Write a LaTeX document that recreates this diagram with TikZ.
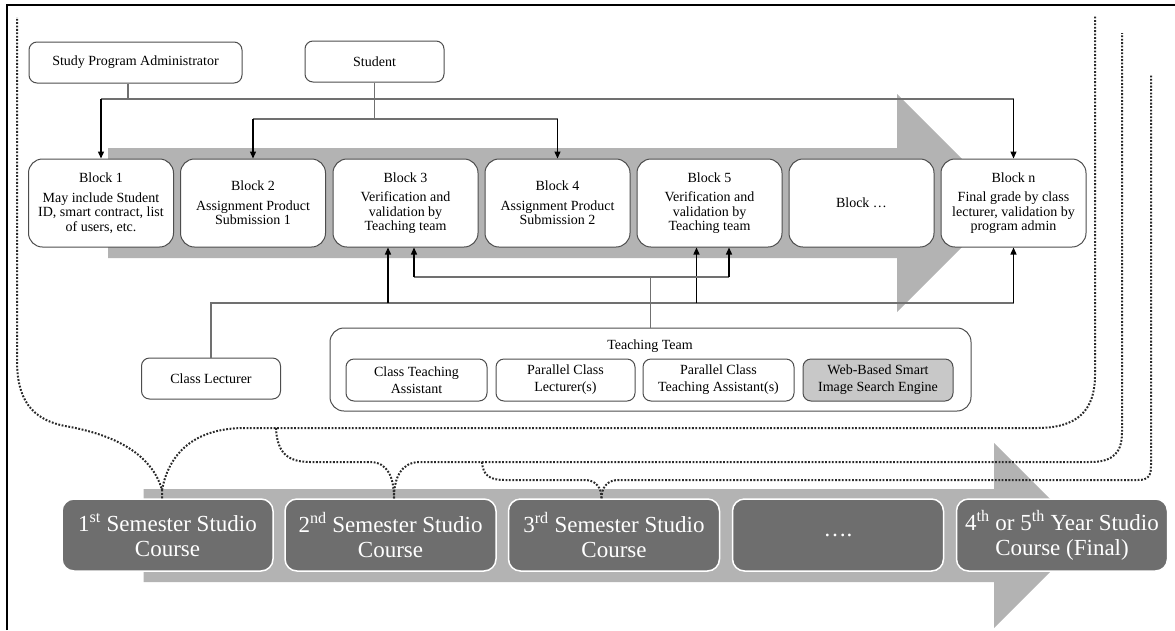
\documentclass[tikz,border=0pt]{standalone}
\usepackage{fontspec}
\setmainfont{Liberation Serif}
\usetikzlibrary{arrows.meta}
\definecolor{arrgray}{HTML}{B3B3B3}
\definecolor{dkbox}{HTML}{6E6E6E}
\definecolor{webgray}{HTML}{C8C8C8}
\definecolor{lgray}{HTML}{707070}
\definecolor{bordergray}{HTML}{4D4D4D}
\definecolor{dotc}{HTML}{2A2A2A}
\begin{document}
\begin{tikzpicture}[x=1pt,y=-1pt,
  wbox/.style={draw=bordergray, line width=1pt, fill=white, rounded corners=8pt, align=center, inner sep=0pt, font=\fontsize{14}{14.5}\selectfont},
  blockbox/.style={wbox, rounded corners=14pt, minimum width=145pt, minimum height=88pt},
  innerbox/.style={wbox, minimum height=42pt, font=\fontsize{14}{17}\selectfont},
  semb/.style={draw=white, line width=1.5pt, fill=dkbox, rounded corners=12pt, minimum width=211pt, minimum height=72pt, text=white, align=center, inner sep=0pt, font=\fontsize{23}{25}\selectfont},
  gline/.style={draw=lgray, line width=1.2pt},
  arr/.style={draw=black, line width=1.3pt, -{Triangle[length=7pt,width=6pt]}},
  dotl/.style={draw=dotc, line width=2pt, dash pattern=on 1.8pt off 1.6pt}
]
\useasboundingbox (0,0) rectangle (1175,630);
\draw[black, line width=1.5pt] (7,630) -- (7,5) -- (1175,5);

% big gray arrows
\fill[arrgray] (108,148) -- (897,148) -- (897,94) -- (1006,203) -- (897,312) -- (897,258) -- (108,258) -- cycle;
\fill[arrgray] (143.5,489) -- (994,489) -- (994,443) -- (1086.5,535.5) -- (994,628) -- (994,582) -- (143.5,582) -- cycle;

% top actors
\node[wbox, minimum width=213pt, minimum height=41pt] (admin) at (135.5,62.5) {Study Program Administrator};
\node[wbox, minimum width=139pt, minimum height=41pt] (student) at (374.5,61.5) {Student};

% blocks
\node[blockbox] (b1) at (101,203) {Block 1\\[5pt]May include Student\\ID, smart contract, list\\of users, etc.};
\node[blockbox] (b2) at (253,203) {Block 2\\[5pt]Assignment Product\\Submission 1};
\node[blockbox] (b3) at (405.5,203) {Block 3\\[5pt]Verification and\\validation by\\Teaching team};
\node[blockbox] (b4) at (557.5,203) {Block 4\\[5pt]Assignment Product\\Submission 2};
\node[blockbox] (b5) at (709.5,203) {Block 5\\[5pt]Verification and\\validation by\\Teaching team};
\node[blockbox] (b6) at (861.5,203) {Block …};
\node[blockbox] (bn) at (1013.5,203) {Block n\\[5pt]Final grade by class\\lecturer, validation by\\program admin};

% lower actors
\node[wbox, minimum width=139pt, minimum height=41pt] (cl) at (211,378.5) {Class Lecturer};
\node[draw=bordergray, line width=1pt, rounded corners=14pt, minimum width=641pt, minimum height=83pt, inner sep=0pt] (tt) at (650.5,369.5) {};
\node[font=\fontsize{14}{14.5}\selectfont, inner sep=0pt] (ttl) at (650,346) {Teaching Team};
\node[innerbox, minimum width=141pt] (cta) at (416.5,380) {Class Teaching\\Assistant};
\node[innerbox, minimum width=139pt] (pcl) at (565.5,380) {Parallel Class\\Lecturer(s)};
\node[innerbox, minimum width=151pt] (pcta) at (718.5,380) {Parallel Class\\Teaching Assistant(s)};
\node[innerbox, minimum width=150pt, fill=webgray] (web) at (878,380) {Web-Based Smart\\Image Search Engine};

% top connectors
\coordinate (hA) at (128,99);
\draw[gline] (admin.south -| hA) -- (hA);
\draw[gline] (b1.north |- hA) -- (bn.north |- hA);
\draw[arr] (b1.north |- hA) -- (b1.north);
\draw[arr] (bn.north |- hA) -- (bn.north);
\coordinate (hS) at (375,119);
\draw[gline] (student.south) -- (student.south |- hS);
\draw[gline] (b2.north |- hS) -- (b4.north |- hS);
\draw[arr] (b2.north |- hS) -- (b2.north);
\draw[arr] (b4.north |- hS) -- (b4.north);

% lower connectors
\coordinate (hL) at (212,303);
\coordinate (a3) at ([xshift=-17.5pt]b3.south);
\coordinate (a5) at ([xshift=-13pt]b5.south);
\draw[gline] (cl.north) -- (cl.north |- hL) -- (bn.south |- hL);
\draw[arr] (a3 |- hL) -- (a3);
\draw[arr] (a5 |- hL) -- (a5);
\draw[arr] (bn.south |- hL) -- (bn.south);
\coordinate (hT) at (650,277);
\coordinate (c3) at ([xshift=8.5pt]b3.south);
\coordinate (c5) at ([xshift=19.5pt]b5.south);
\draw[gline] (tt.north) -- (tt.north |- hT);
\draw[gline] (c3 |- hT) -- (c5 |- hT);
\draw[arr] (c3 |- hT) -- (c3);
\draw[arr] (c5 |- hT) -- (c5);

% semester boxes
\node[semb] (s1) at (167.5,535) {1\textsuperscript{st} Semester Studio\\Course};
\node[semb] (s2) at (390.5,535) {2\textsuperscript{nd} Semester Studio\\Course};
\node[semb] (s3) at (614,535) {3\textsuperscript{rd} Semester Studio\\Course};
\node[semb] (s4) at (838,535) {….};
\node[semb] (s5) at (1062,535) {4\textsuperscript{th} or 5\textsuperscript{th} Year Studio\\Course (Final)};

% dotted scope lines
\coordinate (d1) at ([xshift=-5.5pt]s1.north);
\coordinate (d2) at ([xshift=3.5pt]s2.north);
\coordinate (d3) at ([xshift=-12.5pt]s3.north);
\draw[dotl] (d1) -- (162,490) .. controls (150,447) and (100,432) .. (65,426) .. controls (30,419) and (17,398) .. (17,360) -- (17,17);
\draw[dotl] (162,490) .. controls (170,448) and (200,428) .. (245,428) -- (1037,428) .. controls (1078,428) and (1095,410) .. (1095,375) -- (1095,16);
\draw[dotl] (276,428) .. controls (277,452) and (287,462) .. (310,462) -- (370,462) .. controls (388,462) and (394,478) .. (d2);
\draw[dotl] (d2) .. controls (394,478) and (401,462) .. (420,462) -- (1090,462) .. controls (1114,462) and (1122,452) .. (1122,432) -- (1122,33);
\draw[dotl] (482,462) .. controls (483,476) and (490,480) .. (505,480) -- (585,480) .. controls (596,480) and (601.5,488) .. (d3);
\draw[dotl] (d3) .. controls (601.5,488) and (607,480) .. (618,480) -- (1138,480) .. controls (1148,480) and (1151,476) .. (1151,466) -- (1151,74);
\end{tikzpicture}
\end{document}
